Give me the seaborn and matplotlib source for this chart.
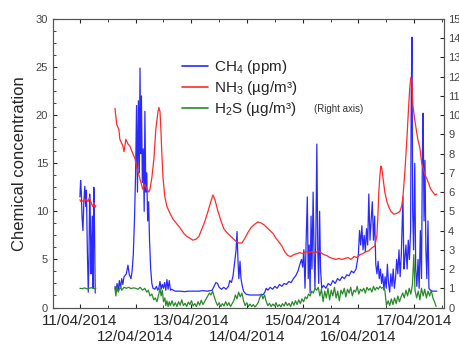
import matplotlib
matplotlib.use("Agg")
import matplotlib.pyplot as plt
import matplotlib.dates as mdates
from matplotlib.lines import Line2D
from matplotlib.ticker import MultipleLocator
import pandas as pd
import seaborn as sns

# hours since 11/04/2014 00:00
ch4_hours_a = [0.0, 0.3, 0.6, 0.9, 1.3, 1.7, 2.1, 2.5, 2.8, 3.2, 3.6, 3.9, 4.2, 4.5, 4.8, 5.1, 5.4, 5.7, 6.0, 6.3, 6.6]
ch4_a = [11.5, 13.2, 12.0, 9.5, 8.0, 11.0, 12.6, 10.5, 12.2, 6.0, 1.6, 5.0, 11.8, 9.0, 3.5, 7.0, 9.5, 2.0, 12.5, 8.0, 1.5]

ch4_hours_b = [15.1, 15.5, 16.0, 16.5, 17.0, 17.5, 18.0, 18.5, 19.0, 20.0,
               20.7, 21.3, 22.0, 22.5, 23.0, 23.5, 24.0, 24.4, 24.8, 25.2,
               25.6, 25.9, 26.2, 26.5, 26.9, 27.3, 27.7, 28.0, 28.4, 28.8,
               29.2, 29.6, 30.0, 30.5, 31.0, 31.5, 32.3, 33.0, 33.5, 34.0,
               34.5, 35.0, 35.5, 36.0, 36.5, 37.0, 37.5, 38.0, 38.5, 39.0,
               39.5, 41.0, 43.0, 45.0, 47.0, 49.0, 51.0, 53.0, 55.0, 57.0,
               58.0, 58.6, 59.3, 60.0, 61.0, 62.0, 63.0, 64.0, 64.6, 65.3,
               66.0, 66.8, 67.3, 67.7, 68.1, 68.5, 69.0, 69.4, 70.0, 70.5,
               71.5, 73.0, 75.0, 77.0, 79.0, 79.7, 80.3, 81.0, 82.0, 83.0,
               84.0, 85.0, 86.0, 87.0, 88.0, 89.0, 90.0, 91.0, 92.0, 93.0,
               94.0, 94.8, 95.5, 96.0, 96.5, 97.0, 97.5, 98.0, 98.4, 98.8,
               99.2, 99.6, 100.0, 100.5, 100.9, 101.3, 101.7, 102.1, 102.5, 102.9,
               103.3, 103.7, 104.2, 105.0, 106.0, 107.0, 108.0, 109.0, 110.0, 111.0,
               112.0, 113.0, 114.0, 115.0, 116.0, 117.0, 118.0, 119.0, 120.0, 120.5,
               121.0, 121.5, 122.0, 122.5, 123.0, 123.5, 124.0, 124.5, 125.0, 125.5,
               126.0, 126.5, 127.0, 127.5, 128.0, 128.5, 129.0, 129.5, 130.0, 130.5,
               131.0, 131.5, 132.0, 132.5, 133.0, 133.5, 134.0, 134.5, 135.0, 135.5,
               136.0, 136.5, 137.0, 137.5, 138.0, 138.5, 139.2, 139.6, 140.0, 140.5,
               141.0, 141.5, 142.0, 142.5, 142.8, 143.1, 143.4, 143.8, 144.3, 144.7,
               145.2, 145.7, 146.2, 146.7, 147.2, 147.6, 147.9, 148.3, 148.7, 149.1,
               149.5, 150.0, 150.4, 151.0, 152.0, 153.0, 153.8]
ch4_b = [2.2, 1.6, 2.5, 1.8, 2.8, 2.0, 3.0, 2.4, 3.2, 3.5,
         4.4, 3.4, 3.0, 3.8, 5.5, 9.0, 14.0, 21.0, 12.0, 21.5,
         14.0, 24.9, 16.0, 22.0, 13.0, 16.5, 10.0, 20.4, 12.0, 14.0,
         9.0, 11.0, 7.0, 4.0, 2.5, 2.0, 1.9, 2.2, 1.8, 2.0,
         2.7, 1.9, 2.4, 2.0, 2.6, 1.8, 2.9, 1.9, 2.8, 1.8,
         1.9, 1.7, 1.7, 1.65, 1.7, 1.7, 1.7, 1.75, 1.7, 1.8,
         2.3, 2.6, 2.5, 2.1, 1.9, 2.1, 1.9, 2.2, 2.8, 2.6,
         3.3, 5.0, 6.0, 7.9, 5.0, 3.0, 4.8, 3.0, 2.2, 1.7,
         1.4, 1.3, 1.3, 1.3, 1.35, 1.6, 2.0, 1.8, 2.1, 1.9,
         2.2, 2.0, 2.4, 2.2, 2.5, 2.4, 2.7, 2.6, 3.0, 3.3,
         3.8, 4.5, 5.0, 4.2, 6.0, 2.0, 7.0, 11.5, 3.0, 6.5,
         1.5, 9.5, 4.0, 12.0, 5.5, 2.0, 8.0, 17.0, 6.0, 2.5,
         10.0, 4.0, 2.0, 2.3, 2.0, 2.5, 2.3, 2.8, 2.5, 3.0,
         2.8, 3.2, 3.0, 3.4, 3.3, 3.8, 3.6, 4.0, 5.5, 8.0,
         6.5, 8.5, 6.0, 7.5, 5.8, 8.2, 6.5, 11.8, 7.0, 9.0,
         11.0, 7.0, 9.5, 4.5, 3.5, 4.8, 3.0, 4.0, 2.5, 3.5,
         1.8, 3.2, 2.0, 4.5, 2.5, 1.6, 3.5, 2.2, 4.0, 2.0,
         3.0, 5.0, 3.5, 6.0, 3.2, 5.5, 11.5, 4.0, 5.0, 6.5,
         4.0, 7.0, 5.0, 8.0, 22.4, 28.1, 10.0, 6.0, 15.0, 4.0,
         2.2, 5.0, 2.0, 8.0, 3.0, 16.2, 20.2, 9.0, 15.3, 6.0,
         3.0, 9.0, 2.0, 1.8, 1.7, 1.7, 1.7]

nh3_hours_a = [0.0, 0.5, 1.0, 1.5, 2.0, 2.5, 3.0, 3.5, 4.0, 4.5, 5.0, 5.5, 6.0, 6.5, 6.9]
nh3_a = [11.2, 11.0, 11.1, 11.0, 11.3, 11.1, 11.2, 11.0, 11.4, 11.1, 10.8, 10.5, 10.9, 10.4, 10.6]

nh3_hours_b = [15.1, 15.9, 16.8, 17.2, 18.1, 18.5, 19.0, 19.8, 20.7, 21.5,
               22.8, 23.7, 24.6, 25.4, 26.3, 27.1, 28.0, 28.9, 29.7, 30.2,
               31.0, 31.9, 32.7, 33.6, 34.0, 34.5, 34.9, 35.3, 35.8, 36.6,
               37.5, 38.8, 40.1, 41.4, 43.1, 44.8, 46.1, 47.4, 48.7, 50.0,
               51.3, 52.6, 53.9, 55.2, 56.4, 57.3, 58.2, 59.5, 60.8, 62.0,
               63.3, 64.6, 65.9, 67.2, 68.5, 69.8, 71.1, 72.4, 73.7, 75.0,
               76.7, 78.0, 79.3, 80.6, 81.9, 83.2, 84.5, 85.8, 87.0, 88.3,
               89.6, 90.9, 92.2, 93.5, 94.8, 96.1, 97.4, 98.7, 100.0, 101.3,
               102.6, 103.9, 105.1, 106.4, 107.7, 109.0, 110.3, 111.6, 112.9, 114.2,
               115.5, 116.8, 118.1, 119.4, 120.7, 121.9, 123.2, 124.5, 125.8, 127.1,
               128.0, 128.4, 128.8, 129.3, 129.7, 130.1, 130.6, 131.4, 132.3, 133.2,
               134.0, 135.3, 136.6, 137.9, 138.7, 139.2, 140.0, 140.9, 141.8, 142.2,
               142.6, 143.1, 143.5, 144.3, 145.6, 146.5, 147.3, 148.7, 149.5, 150.4,
               151.2, 152.1, 153.0, 153.8]
nh3_b = [20.7, 19.0, 18.5, 17.5, 17.0, 16.8, 16.2, 17.5, 17.0, 16.8,
         16.0, 15.5, 14.5, 13.8, 13.0, 12.3, 12.8, 12.3, 12.0, 12.3,
         13.5, 15.5, 18.5, 20.3, 20.8, 20.4, 18.5, 16.0, 13.5, 11.5,
         10.5, 9.8, 9.2, 8.8, 8.3, 7.7, 7.4, 7.2, 7.0, 7.1,
         7.4, 8.2, 9.0, 10.0, 11.0, 11.7, 11.2, 10.0, 9.0, 8.2,
         7.8, 7.5, 7.2, 6.9, 6.7, 6.7, 7.2, 7.8, 8.3, 8.6,
         8.9, 8.8, 8.6, 8.3, 8.0, 7.7, 7.2, 6.8, 6.4, 5.8,
         5.4, 5.3, 5.5, 5.6, 5.7, 5.6, 5.8, 5.7, 5.8, 5.6,
         5.9, 5.7, 5.5, 5.4, 5.2, 5.1, 5.0, 5.1, 5.0, 5.1,
         5.2, 5.0, 5.3, 5.2, 5.5, 5.6, 5.8, 5.9, 6.2, 6.4,
         7.5, 9.5, 12.0, 13.8, 14.7, 14.5, 13.5, 12.0, 11.0, 10.4,
         10.0, 9.7, 9.8, 10.0, 10.6, 11.5, 14.0, 17.5, 21.5, 23.0,
         23.9, 23.5, 21.0, 19.5, 17.5, 16.6, 15.0, 13.8, 13.4, 12.8,
         12.3, 12.0, 11.7, 11.8]

h2s_hours_a = [0.0, 1.0, 2.0, 3.0, 4.0, 5.0, 6.0, 6.9]
h2s_a = [1.0, 0.98, 1.02, 0.97, 1.0, 1.03, 0.98, 1.0]

h2s_hours_b = [15.1, 15.5, 16.0, 16.5, 17.0, 17.5, 18.0, 19.0, 20.0, 21.0,
               22.0, 23.0, 24.0, 25.0, 26.0, 27.0, 28.0, 28.8, 29.5, 30.2,
               31.0, 31.8, 32.5, 33.2, 34.0, 34.5, 35.0, 35.5, 36.0, 36.6,
               37.0, 37.5, 38.0, 38.5, 39.0, 39.7, 40.4, 41.1, 41.8, 42.5,
               43.2, 43.9, 44.6, 45.3, 46.0, 46.7, 47.4, 48.1, 48.8, 49.5,
               50.2, 50.9, 51.6, 52.3, 53.0, 53.7, 54.4, 55.1, 55.8, 56.5,
               57.2, 57.9, 58.6, 59.3, 60.0, 60.7, 61.4, 62.1, 62.8, 63.5,
               64.2, 64.9, 65.6, 66.3, 67.0, 67.7, 68.4, 69.1, 69.8, 70.5,
               71.2, 71.9, 72.6, 73.3, 74.0, 74.7, 75.4, 76.1, 76.8, 77.5,
               78.2, 78.9, 79.6, 80.3, 81.0, 81.7, 82.4, 83.1, 83.8, 84.5,
               85.2, 85.9, 86.6, 87.3, 88.0, 88.7, 89.4, 90.1, 90.8, 91.5,
               92.2, 92.9, 93.6, 94.3, 95.0, 95.7, 96.4, 97.1, 97.8, 98.5,
               99.2, 99.9, 100.6, 101.3, 102.0, 102.7, 103.4, 104.1, 104.8, 105.5,
               106.2, 106.9, 107.6, 108.3, 109.0, 109.7, 110.4, 111.1, 111.8, 112.5,
               113.2, 113.9, 114.6, 115.3, 116.0, 116.7, 117.4, 118.1, 118.8, 119.5,
               120.2, 120.9, 121.6, 122.3, 123.0, 123.7, 124.4, 125.1, 125.8, 126.5,
               127.2, 127.9, 128.6, 129.3, 130.0, 130.7, 131.4, 132.1, 132.8, 133.5,
               134.2, 134.9, 135.6, 136.3, 137.0, 137.7, 138.4, 139.1, 139.8, 140.5,
               141.2, 141.9, 142.6, 143.3, 143.9, 144.4, 145.1, 145.8, 146.5, 147.2,
               147.9, 148.6, 149.3, 150.0, 150.7, 151.4, 152.1, 152.8, 153.5]
h2s_b = [1.0, 0.6, 1.1, 0.8, 0.95, 1.1, 0.9, 1.05, 1.0, 1.05,
         0.98, 1.02, 1.0, 0.95, 1.05, 0.9, 1.0, 0.8, 0.9, 0.6,
         0.7, 0.4, 0.5, 0.3, 0.7, 1.0, 0.6, 0.9, 0.3, 0.5,
         0.1, 0.35, 0.05, 0.3, 0.1, 0.35, 0.08, 0.25, 0.05, 0.3,
         0.12, 0.4, 0.1, 0.22, 0.05, 0.28, 0.15, 0.35, 0.08, 0.2,
         0.05, 0.3, 0.12, 0.38, 0.15, 0.3, 0.45, 0.6, 0.75, 0.65,
         0.85, 0.55, 0.3, 0.1, 0.25, 0.05, 0.2, 0.08, 0.3, 0.1,
         0.25, 0.05, 0.2, 0.35, 0.65, 0.45, 0.8, 0.55, 0.75, 0.35,
         0.1, 0.25, 0.05, 0.18, 0.05, 0.15, 0.03, 0.12, 0.25, 0.5,
         0.7, 0.45, 0.65, 0.3, 0.1, 0.22, 0.05, 0.18, 0.08, 0.25,
         0.05, 0.15, 0.03, 0.2, 0.08, 0.28, 0.1, 0.22, 0.05, 0.3,
         0.12, 0.35, 0.15, 0.4, 0.2, 0.45, 0.3, 0.55, 0.45, 0.7,
         0.6, 0.85, 0.75, 1.0, 0.9, 1.05, 0.6, 0.95, 0.3, 0.85,
         0.5, 1.0, 0.4, 0.9, 0.6, 1.05, 0.5, 0.85, 0.35, 0.9,
         0.7, 1.0, 0.55, 0.95, 0.75, 1.05, 0.6, 0.9, 0.8, 1.1,
         0.7, 0.95, 0.85, 1.0, 0.75, 1.05, 0.9, 1.0, 0.8, 1.1,
         0.9, 1.05, 0.95, 1.1, 1.0, 1.05, 0.9, 0.1, 0.35, 0.1,
         0.45, 0.15, 0.5, 0.2, 0.6, 0.3, 0.55, 0.75, 0.5, 0.9,
         0.6, 1.0, 0.7, 1.2, 2.75, 0.9, 0.5, 0.85, 0.4, 1.0,
         0.6, 0.95, 0.5, 0.85, 0.6, 0.9, 0.5, 0.3, 0.05]

tick_days = ["2014-04-11", "2014-04-12", "2014-04-13", "2014-04-14",
             "2014-04-15", "2014-04-16", "2014-04-17"]

start = pd.Timestamp("2014-04-11")
c_ch4, c_nh3, c_h2s = "#2a2aff", "#ff2a2a", "#2a8a2a"

sns.set_style("ticks")
plt.rcParams["font.family"] = ["Liberation Sans", "DejaVu Sans"]
plt.rcParams["mathtext.fontset"] = "custom"
plt.rcParams["mathtext.rm"] = "Liberation Sans"
plt.rcParams["mathtext.it"] = "Liberation Sans"


def seg(hours, values):
    return pd.DataFrame({"time": start + pd.to_timedelta(hours, unit="h"), "value": values})


fig, ax = plt.subplots(figsize=(4.59, 3.44), dpi=100)
fig.subplots_adjust(left=53 / 459, right=444 / 459, bottom=1 - 307.5 / 344, top=1 - 19 / 344)
ax2 = ax.twinx()

for h, v in [(ch4_hours_a, ch4_a), (ch4_hours_b, ch4_b)]:
    sns.lineplot(data=seg(h, v), x="time", y="value", ax=ax, color=c_ch4, linewidth=0.9, errorbar=None, legend=False)
for h, v in [(nh3_hours_a, nh3_a), (nh3_hours_b, nh3_b)]:
    sns.lineplot(data=seg(h, v), x="time", y="value", ax=ax, color=c_nh3, linewidth=0.9, errorbar=None, legend=False)
for h, v in [(h2s_hours_a, h2s_a), (h2s_hours_b, h2s_b)]:
    sns.lineplot(data=seg(h, v), x="time", y="value", ax=ax2, color=c_h2s, linewidth=0.9, errorbar=None, legend=False)

ax.set_xlim(start - pd.Timedelta(hours=11.6), start + pd.Timedelta(hours=156.9))
ax.set_ylim(0, 30)
ax2.set_ylim(0, 15)
ax.set_xlabel("")
ax2.set_ylabel("")
ax.set_ylabel("Chemical concentration", fontsize=12, labelpad=6)

days = pd.to_datetime(tick_days)
ax.set_xticks(days)
ax.set_xticklabels([d.strftime("%d/%m/%Y") for d in days])
ax.xaxis.set_minor_locator(mdates.HourLocator(byhour=[12]))
ax.yaxis.set_major_locator(MultipleLocator(5))
ax.yaxis.set_minor_locator(MultipleLocator(1.25))
ax2.yaxis.set_major_locator(MultipleLocator(1))

ax.tick_params(axis="x", which="both", direction="in", top=True, length=3, labelsize=11, pad=4.5)
ax.tick_params(axis="x", which="minor", length=2)
ax.tick_params(axis="y", which="both", direction="in", length=3, labelsize=8, labelcolor="#444444")
ax.tick_params(axis="y", which="minor", length=2)
ax2.tick_params(axis="y", direction="in", length=3, labelsize=8, labelcolor="#444444", pad=3)
# stagger: even days go on a second row
for d, t in zip(days, ax.xaxis.get_major_ticks()):
    if d.day % 2 == 0:
        t.set_pad(16.5)

for a in (ax, ax2):
    for sp in a.spines.values():
        sp.set_visible(True)
        sp.set_color("#555555")
        sp.set_linewidth(0.8)

handles = [Line2D([], [], color=c, linewidth=1.2) for c in (c_ch4, c_nh3, c_h2s)]
labels = ["CH$_4$ (ppm)", "NH$_3$ (µg/m³)", "H$_2$S (µg/m³)"]
fig.legend(handles, labels, loc="upper left", bbox_to_anchor=(182 / 459, 1 - 58 / 344), frameon=False,
           fontsize=11, handlelength=1.7, handletextpad=0.4, labelspacing=0.2, borderpad=0, borderaxespad=0)
fig.text(314 / 459, 1 - 109 / 344, "(Right axis)", fontsize=7, color="#333333", va="center")

fig.savefig("out.png", dpi=100)
